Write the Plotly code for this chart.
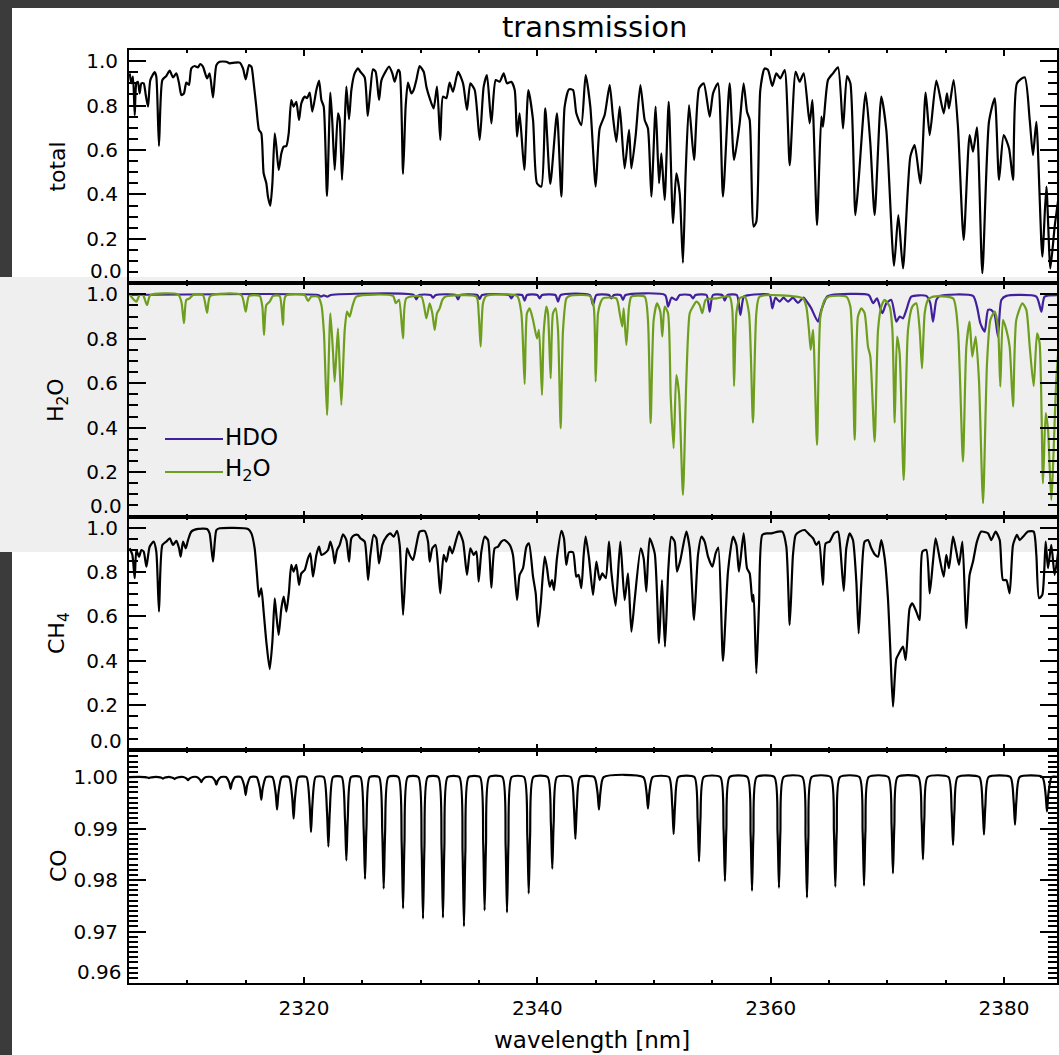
import plotly.graph_objects as go

# ---------------- data ----------------
total_points = [
    (2305.06,0.945),(2305.2,0.90),(2305.34,0.93),(2305.49,0.757),(2305.63,0.90),(2305.77,0.907),(2305.91,0.855),
    (2306.06,0.90),(2306.26,0.90),(2306.43,0.85),(2306.63,0.795),(2306.83,0.915),(2307.2,0.95),(2307.34,0.93),
    (2307.57,0.618),(2307.86,0.915),(2308.2,0.933),(2308.49,0.957),(2308.77,0.927),(2309.06,0.945),(2309.29,0.90),
    (2309.49,0.847),(2309.71,0.855),(2309.91,0.903),(2310.14,0.893),(2310.34,0.967),(2310.63,0.978),(2310.91,0.972),
    (2311.11,0.987),(2311.34,0.975),(2311.69,0.922),(2311.91,0.945),(2312.2,0.837),(2312.49,0.982),(2312.77,0.997),
    (2313.34,0.997),(2313.63,0.99),(2314.06,0.993),(2314.49,0.993),(2314.77,0.967),(2315.0,0.918),(2315.29,0.982),
    (2315.49,0.975),(2315.69,0.90),(2315.91,0.795),(2316.14,0.69),(2316.34,0.675),(2316.54,0.495),(2316.77,0.45),
    (2316.91,0.39),(2317.11,0.349),(2317.29,0.45),(2317.49,0.675),(2317.63,0.615),(2317.83,0.51),(2318.06,0.585),
    (2318.26,0.615),(2318.49,0.618),(2318.69,0.675),(2318.91,0.825),(2319.11,0.795),(2319.34,0.817),(2319.57,0.735),
    (2319.77,0.81),(2320.06,0.84),(2320.26,0.833),(2320.49,0.858),(2320.71,0.772),(2321.06,0.87),(2321.29,0.912),
    (2321.49,0.825),(2321.69,0.795),(2321.97,0.393),(2322.26,0.858),(2322.43,0.72),(2322.63,0.51),(2322.91,0.765),
    (2323.06,0.735),(2323.26,0.465),(2323.49,0.72),(2323.63,0.885),(2323.86,0.738),(2324.06,0.87),(2324.34,0.945),
    (2324.63,0.967),(2324.83,0.952),(2325.2,0.927),(2325.46,0.753),(2325.69,0.87),(2325.91,0.963),(2326.14,0.952),
    (2326.43,0.825),(2326.63,0.912),(2326.91,0.945),(2327.29,0.975),(2327.57,0.945),(2327.77,0.907),(2328.06,0.96),
    (2328.2,0.952),(2328.49,0.492),(2328.71,0.795),(2328.91,0.903),(2329.2,0.855),(2329.4,0.87),(2329.63,0.915),
    (2329.91,0.978),(2330.26,0.952),(2330.49,0.885),
    (2330.77,0.833),(2331.11,0.787),(2331.4,0.885),(2331.68,0.645),(2331.91,0.84),(2332.2,0.833),(2332.48,0.903),
    (2332.77,0.862),(2333.2,0.952),(2333.63,0.90),(2333.97,0.78),(2334.26,0.90),(2334.63,0.87),(2335.06,0.645),
    (2335.4,0.885),(2335.68,0.937),(2336.06,0.72),(2336.43,0.915),(2336.77,0.907),(2337.11,0.945),(2337.4,0.90),
    (2337.77,0.907),(2338.06,0.87),(2338.26,0.66),(2338.48,0.765),(2338.88,0.51),(2339.23,0.87),(2339.63,0.735),
    (2339.97,0.45),(2340.34,0.435),(2340.68,0.787),(2341.11,0.447),(2341.68,0.765),(2342.06,0.39),(2342.34,0.795),
    (2342.71,0.873),(2343.06,0.87),(2343.34,0.765),(2343.77,0.712),(2344.14,0.937),(2344.54,0.795),(2345.0,0.435),
    (2345.34,0.697),(2345.77,0.757),(2346.2,0.892),(2346.48,0.75),(2346.77,0.637),(2347.06,0.795),(2347.48,0.517),
    (2347.86,0.69),(2348.06,0.517),(2348.43,0.667),(2348.83,0.892),(2349.2,0.735),(2349.48,0.697),(2349.77,0.39),
    (2350.14,0.795),(2350.43,0.45),(2350.63,0.585),(2350.91,0.375),(2351.26,0.817),(2351.63,0.27),(2351.91,0.495),
    (2352.2,0.405),(2352.48,0.092),(2352.71,0.495),(2353.0,0.802),(2353.43,0.555),(2353.86,0.877),(2354.26,0.90),
    (2354.77,0.75),(2355.06,0.855),(2355.48,0.90),(2355.91,0.39),(2356.48,0.90),(2356.86,0.555),
    (2357.34,0.72),(2357.68,0.90),(2357.97,0.772),(2358.2,0.735),(2358.54,0.255),(2358.77,0.277),(2359.11,0.87),
    (2359.48,0.967),(2359.77,0.96),(2360.14,0.888),(2360.48,0.945),(2360.83,0.922),(2361.2,0.96),(2361.63,0.532),
    (2362.14,0.952),(2362.48,0.907),(2362.83,0.945),(2363.34,0.72),(2363.57,0.825),(2363.97,0.262),(2364.34,0.75),
    (2364.48,0.705),(2364.91,0.915),(2365.34,0.945),(2365.77,0.972),(2366.2,0.697),(2366.54,0.933),(2366.83,0.90),
    (2367.26,0.307),(2367.54,0.465),(2368.14,0.858),(2368.54,0.63),(2368.91,0.307),(2369.48,0.84),(2369.91,0.69),
    (2370.57,0.078),(2370.94,0.307),(2371.34,0.067),(2371.97,0.57),(2372.34,0.622),(2372.83,0.45),(2373.28,0.858),
    (2373.63,0.667),(2374.2,0.912),(2374.83,0.765),(2375.11,0.855),(2375.28,0.787),(2375.68,0.915),(2376.05,0.705),
    (2376.54,0.195),(2377.05,0.667),(2377.34,0.592),(2377.68,0.702),(2378.14,0.045),(2378.71,0.727),(2379.2,0.832),
    (2379.57,0.465),(2379.97,0.667),(2380.43,0.607),(2380.77,0.465),(2381.11,0.90),(2381.77,0.927),(2382.2,0.735),
    (2382.48,0.577),(2382.77,0.727),(2383.28,0.12),(2383.63,0.435),(2383.97,0.067),(2384.34,0.255),(2384.68,0.39),
]

hdo_points = [
    (2305.06,0.997),(2321.2,0.997),(2321.45,0.99),(2321.7,0.995),(2322.0,0.99),(2322.3,0.997),(2329.4,0.997),
    (2329.63,0.977),(2329.86,0.997),(2330.85,0.997),(2331.06,0.985),(2331.3,0.997),(2333.0,0.997),(2333.2,0.977),
    (2333.4,0.997),(2334.85,0.997),(2335.06,0.979),(2335.26,0.997),(2337.57,0.997),(2337.77,0.982),(2337.97,0.997),
    (2338.7,0.997),(2338.91,0.972),(2339.11,0.997),(2340.0,0.997),(2340.2,0.982),(2340.4,0.997),(2341.55,0.997),
    (2341.77,0.967),(2342.0,0.997),(2344.5,0.997),(2344.77,0.952),(2345.05,0.997),(2346.15,0.997),(2346.34,0.982),
    (2346.55,0.997),(2347.13,0.997),(2347.34,0.975),(2347.55,0.997),(2350.95,0.997),(2351.2,0.945),(2351.5,0.985),
    (2351.91,0.975),(2352.2,0.997),(2353.1,0.997),(2353.34,0.982),(2353.55,0.997),(2354.5,0.997),(2354.77,0.922),
    (2355.05,0.997),(2355.85,0.997),(2356.06,0.972),(2356.3,0.997),(2357.1,0.997),(2357.4,0.907),(2357.7,0.99),
    (2358.2,0.997),(2359.9,0.997),(2360.14,0.937),(2360.4,0.985),(2360.77,0.967),(2361.1,0.985),(2361.48,0.967),
    (2361.9,0.985),(2362.34,0.962),(2362.8,0.985),(2363.2,0.96),(2363.48,0.937),(2364.05,0.877),(2364.34,0.93),
    (2364.83,0.99),(2365.2,0.997),(2368.4,0.997),(2368.77,0.96),(2369.11,0.982),(2369.57,0.915),(2369.91,0.96),
    (2370.34,0.975),(2370.77,0.877),(2371.05,0.9),(2371.34,0.892),(2371.63,0.93),(2372.05,0.99),(2373.34,0.993),
    (2373.68,0.96),(2373.91,0.877),(2374.2,0.975),(2374.48,0.993),(2377.34,0.993),(2377.68,0.945),(2377.97,0.87),
    (2378.34,0.832),(2378.63,0.93),(2378.91,0.93),(2379.2,0.907),(2379.48,0.81),(2379.77,0.975),(2380.2,0.993),
    (2382.77,0.99),(2383.2,0.922),(2383.48,0.99),(2384.68,0.997),
]

h2o_points = [
    (2305.06,1.0),(2305.34,0.98),(2305.63,0.967),(2305.91,0.997),(2306.2,0.997),(2306.54,0.952),(2306.83,0.997),
    (2309.2,1.0),(2309.49,0.967),(2309.71,0.87),(2309.91,0.975),(2310.2,0.982),(2310.49,0.997),(2311.34,0.997),
    (2311.69,0.917),(2311.97,0.993),(2314.63,0.997),(2315.0,0.922),(2315.29,0.993),(2316.2,0.993),(2316.43,0.945),
    (2316.57,0.817),(2316.77,0.952),(2317.06,0.967),(2317.34,0.993),(2317.91,0.993),(2318.2,0.862),(2318.43,0.993),
    (2320.06,0.997),(2320.34,0.97),(2320.63,0.99),(2321.2,0.99),(2321.49,0.952),(2321.71,0.825),(2321.97,0.457),
    (2322.26,0.915),(2322.49,0.735),(2322.63,0.607),(2322.91,0.847),(2323.2,0.502),(2323.49,0.84),(2323.69,0.922),
    (2323.91,0.9),(2324.14,0.945),(2324.49,0.99),(2327.63,0.993),(2327.86,0.96),(2328.14,0.975),(2328.49,0.802),
    (2328.77,0.982),(2330.06,0.99),(2330.49,0.892),
    (2330.77,0.96),(2331.0,0.915),(2331.2,0.84),(2331.4,0.915),(2331.63,0.937),(2331.86,0.975),(2332.14,0.99),
    (2334.77,0.99),(2334.97,0.915),(2335.14,0.765),(2335.34,0.96),(2335.63,0.993),(2338.26,0.993),(2338.63,0.915),
    (2338.91,0.597),(2339.11,0.915),(2339.34,0.937),(2339.63,0.885),(2339.97,0.802),(2340.14,0.84),(2340.4,0.547),
    (2340.54,0.825),(2340.77,0.945),(2340.91,0.915),(2341.14,0.622),(2341.34,0.915),(2341.57,0.937),(2341.77,0.84),
    (2342.0,0.397),(2342.2,0.84),(2342.49,0.982),(2342.77,0.993),(2344.49,0.993),(2344.83,0.945),(2345.0,0.607),
    (2345.2,0.915),(2345.4,0.96),(2345.63,0.982),(2346.77,0.982),(2347.06,0.915),(2347.28,0.855),(2347.4,0.937),
    (2347.63,0.772),(2347.86,0.945),(2348.06,0.99),(2349.2,0.99),(2349.48,0.885),(2349.71,0.42),(2349.97,0.885),
    (2350.26,0.96),(2350.54,0.922),(2350.71,0.81),(2350.91,0.945),(2351.2,0.915),(2351.43,0.54),(2351.68,0.307),
    (2351.91,0.637),(2352.14,0.555),(2352.48,0.097),(2352.77,0.615),(2353.06,0.915),(2353.34,0.945),(2353.63,0.967),
    (2353.91,0.952),(2354.14,0.915),(2354.43,0.975),(2355.34,0.982),(2356.48,0.99),(2356.71,0.93),(2356.86,0.587),
    (2357.06,0.915),
    (2357.34,0.982),(2357.77,0.99),(2358.14,0.915),(2358.48,0.422),(2358.77,0.915),(2359.05,0.99),(2362.77,0.982),
    (2363.05,0.945),(2363.28,0.84),(2363.43,0.75),(2363.63,0.84),(2363.97,0.322),(2364.26,0.9),(2364.63,0.975),
    (2365.0,0.99),(2366.48,0.99),(2366.83,0.945),(2367.2,0.345),(2367.48,0.9),(2367.77,0.937),(2368.05,0.915),
    (2368.34,0.765),(2368.54,0.72),(2368.91,0.337),(2369.2,0.84),(2369.48,0.945),(2369.77,0.975),(2370.2,0.945),
    (2370.43,0.84),(2370.63,0.422),(2370.83,0.81),(2371.05,0.735),(2371.4,0.165),(2371.77,0.84),(2372.14,0.945),
    (2372.48,0.96),(2372.77,0.84),(2372.97,0.667),(2373.2,0.915),(2373.48,0.975),(2373.91,0.99),(2375.63,0.982),
    (2376.05,0.84),(2376.48,0.247),(2376.77,0.765),(2377.05,0.877),(2377.28,0.72),(2377.57,0.81),(2377.85,0.615),
    (2378.2,0.06),(2378.54,0.69),(2378.83,0.885),(2379.2,0.922),(2379.48,0.855),(2379.68,0.585),(2379.91,0.885),
    (2380.2,0.84),(2380.48,0.765),(2380.77,0.495),(2381.05,0.885),(2381.57,0.96),(2381.91,0.93),(2382.2,0.765),
    (2382.54,0.587),(2382.83,0.825),(2383.05,0.78),(2383.34,0.15),(2383.57,0.465),(2383.77,0.39),(2384.05,0.075),
    (2384.48,0.615),(2384.68,0.765),
]

ch4_points = [
    (2305.06,0.907),(2305.29,0.877),(2305.49,0.772),(2305.63,0.899),(2305.86,0.869),(2306.06,0.899),(2306.26,0.892),
    (2306.49,0.824),(2306.77,0.914),(2307.11,0.937),(2307.34,0.892),(2307.57,0.622),(2307.86,0.922),(2308.2,0.937),
    (2308.49,0.952),(2308.77,0.922),(2309.06,0.94),(2309.29,0.907),(2309.43,0.869),(2309.63,0.937),(2309.86,0.907),
    (2310.06,0.944),(2310.34,0.982),(2310.91,0.994),(2311.69,0.994),(2311.91,0.974),(2312.2,0.847),(2312.49,0.989),
    (2312.77,0.997),(2315.2,0.994),(2315.49,0.974),(2315.77,0.907),(2315.97,0.787),(2316.14,0.689),(2316.34,0.727),
    (2316.54,0.622),(2316.77,0.487),(2317.06,0.363),(2317.29,0.487),(2317.49,0.682),(2317.63,0.607),(2317.83,0.517),
    (2318.06,0.637),(2318.26,0.689),(2318.49,0.622),(2318.71,0.712),(2318.91,0.832),(2319.11,0.802),(2319.34,0.832),
    (2319.57,0.742),(2319.77,0.794),(2320.06,0.809),(2320.34,0.862),(2320.54,0.884),(2320.77,0.779),(2321.06,0.877),
    (2321.29,0.914),(2321.49,0.877),(2321.77,0.884),(2322.06,0.899),(2322.26,0.937),(2322.49,0.892),(2322.63,0.839),
    (2322.83,0.899),(2323.06,0.922),(2323.34,0.97),(2323.63,0.944),(2323.86,0.847),(2324.06,0.952),(2324.34,0.967),
    (2324.63,0.967),(2324.83,0.952),(2325.2,0.937),(2325.49,0.764),(2325.69,0.877),(2325.97,0.967),(2326.2,0.952),
    (2326.43,0.839),(2326.71,0.922),(2327.06,0.959),(2327.4,0.974),(2327.69,0.959),(2327.97,0.985),(2328.2,0.922),
    (2328.49,0.607),(2328.71,0.817),(2328.83,0.907),(2329.06,0.877),(2329.34,0.854),(2329.63,0.922),(2329.91,0.982),
    (2330.34,0.985),(2330.63,0.937),
    (2330.77,0.847),(2331.0,0.907),(2331.28,0.922),(2331.48,0.832),(2331.68,0.704),(2331.97,0.877),(2332.2,0.847),
    (2332.48,0.914),(2332.71,0.884),(2333.0,0.937),(2333.28,0.982),(2333.63,0.937),(2333.97,0.787),(2334.26,0.907),
    (2334.54,0.877),(2334.77,0.892),(2334.97,0.757),(2335.2,0.892),(2335.48,0.959),(2335.77,0.944),(2336.06,0.73),
    (2336.34,0.907),(2336.63,0.914),(2336.91,0.937),(2337.2,0.944),(2337.63,0.922),(2337.91,0.877),(2338.26,0.674),
    (2338.48,0.787),(2338.77,0.817),(2339.06,0.914),(2339.28,0.929),(2339.63,0.779),(2339.86,0.704),(2340.06,0.554),
    (2340.28,0.652),(2340.63,0.869),(2340.83,0.817),(2341.06,0.734),(2341.26,0.764),(2341.43,0.719),(2341.68,0.862),
    (2342.06,0.985),(2342.28,0.952),(2342.48,0.832),(2342.71,0.889),(2343.06,0.889),(2343.34,0.779),(2343.54,0.787),
    (2343.77,0.727),(2343.97,0.877),(2344.14,0.959),(2344.43,0.862),(2344.77,0.697),(2345.06,0.847),(2345.34,0.764),
    (2345.57,0.794),(2345.86,0.772),(2346.14,0.937),(2346.34,0.802),(2346.71,0.649),(2347.11,0.937),(2347.48,0.674),
    (2347.77,0.794),(2348.06,0.532),(2348.34,0.674),(2348.86,0.907),(2349.11,0.862),(2349.34,0.712),(2349.63,0.952),
    (2350.06,0.884),(2350.43,0.479),(2350.68,0.764),(2350.94,0.464),(2351.23,0.817),(2351.48,0.959),(2351.77,0.937),
    (2351.97,0.802),(2352.26,0.854),(2352.77,0.982),(2353.06,0.907),(2353.43,0.584),(2353.77,0.877),(2354.06,0.959),
    (2354.34,0.937),(2354.63,0.869),(2355.0,0.824),(2355.28,0.884),(2355.51,0.91),(2355.91,0.4),(2356.34,0.802),
    (2356.77,0.959),(2357.06,0.922),(2357.28,0.802),
    (2357.68,0.974),(2357.97,0.817),(2358.2,0.794),(2358.43,0.667),(2358.54,0.697),(2358.77,0.344),(2359.0,0.652),
    (2359.28,0.967),(2359.68,0.974),(2360.05,0.974),(2360.63,0.982),(2361.0,0.982),(2361.34,0.914),(2361.63,0.562),
    (2361.91,0.877),(2362.14,0.967),(2362.48,0.982),(2362.91,0.989),(2363.34,0.967),(2363.63,0.952),(2363.91,0.922),
    (2364.14,0.937),(2364.48,0.742),(2364.71,0.929),(2365.05,0.937),(2365.43,0.974),(2365.77,0.982),(2365.97,0.907),
    (2366.26,0.715),(2366.48,0.907),(2366.77,0.974),(2367.05,0.944),(2367.34,0.757),(2367.54,0.524),(2367.77,0.757),
    (2368.05,0.937),(2368.34,0.944),(2368.63,0.907),(2368.91,0.88),(2369.2,0.869),(2369.48,0.944),(2369.77,0.862),
    (2370.05,0.682),(2370.25,0.455),(2370.48,0.194),(2370.77,0.41),(2371.0,0.434),(2371.34,0.464),(2371.57,0.404),
    (2371.91,0.637),(2372.14,0.659),(2372.48,0.622),(2372.77,0.584),(2373.0,0.892),(2373.34,0.899),(2373.63,0.704),
    (2373.91,0.847),(2374.14,0.952),(2374.48,0.862),(2374.83,0.779),(2375.05,0.877),(2375.28,0.817),(2375.63,0.959),
    (2375.91,0.892),(2376.14,0.832),(2376.43,0.937),(2376.77,0.547),(2377.05,0.787),(2377.34,0.847),(2377.68,0.937),
    (2378.05,0.982),(2378.63,0.974),(2378.91,0.944),(2379.28,0.982),(2379.63,0.944),(2379.91,0.764),(2380.2,0.764),
    (2380.48,0.704),(2380.77,0.922),(2381.11,0.967),(2381.34,0.944),(2381.63,0.959),(2382.05,0.982),(2382.54,0.982),
    (2382.77,0.877),(2383.0,0.682),(2383.28,0.697),(2383.57,0.937),(2383.77,0.817),(2384.05,0.922),(2384.34,0.787),
    (2384.68,0.907),
]

co_points = [
    (2305.0,1.0),
    (2306.31,1.0),(2306.59,0.9999),(2306.71,0.9998),(2306.83,0.9999),(2307.11,1.0),
    (2307.51,1.0),(2307.79,0.99985),(2307.91,0.9997),(2308.03,0.99985),(2308.31,1.0),
    (2308.51,1.0),(2308.79,0.9998),(2308.91,0.9996),(2309.03,0.9998),(2309.31,1.0),
    (2309.66,1.0),(2309.94,0.9997),(2310.06,0.9994),(2310.18,0.9997),(2310.46,1.0),
    (2310.8,1.0),(2311.08,0.9995),(2311.2,0.9990),(2311.32,0.9995),(2311.6,1.0),
    (2312.09,1.0),(2312.37,0.9993),(2312.49,0.9985),(2312.61,0.9993),(2312.89,1.0),
    (2313.31,1.0),(2313.59,0.9989),(2313.71,0.9977),(2313.83,0.9989),(2314.11,1.0),
    (2314.6,1.0),(2314.88,0.9983),(2315.0,0.9965),(2315.12,0.9983),(2315.4,1.0),
    (2315.94,1.0),(2316.22,0.9978),(2316.34,0.9956),(2316.46,0.9978),(2316.74,1.0),
    (2317.29,1.0),(2317.57,0.9969),(2317.69,0.9937),(2317.81,0.9969),(2318.09,1.0),
    (2318.71,1.0),(2318.99,0.9960),(2319.11,0.9919),(2319.23,0.9960),(2319.51,1.0),
    (2320.2,1.0),(2320.48,0.9947),(2320.6,0.9893),(2320.72,0.9947),(2321.0,1.0),
    (2321.69,1.0),(2321.97,0.9933),(2322.09,0.9865),(2322.21,0.9933),(2322.49,1.0),
    (2323.23,1.0),(2323.51,0.9919),(2323.63,0.9838),(2323.75,0.9919),(2324.03,1.0),
    (2324.83,1.0),(2325.11,0.9901),(2325.23,0.9802),(2325.35,0.9901),(2325.63,1.0),
    (2326.43,1.0),(2326.71,0.9892),(2326.83,0.9783),(2326.95,0.9892),(2327.23,1.0),
    (2328.09,1.0),(2328.37,0.9873),(2328.49,0.9745),(2328.61,0.9873),(2328.89,1.0),
    (2329.8,1.0),(2330.08,0.9863),(2330.2,0.9725),(2330.32,0.9863),(2330.6,1.0),
    (2331.51,1.0),(2331.79,0.9864),(2331.91,0.9727),(2332.03,0.9864),(2332.31,1.0),
    (2333.31,1.0),(2333.59,0.9855),(2333.71,0.9710),(2333.83,0.9855),(2334.11,1.0),
    (2335.08,1.0),(2335.36,0.9871),(2335.48,0.9741),(2335.6,0.9871),(2335.88,1.0),
    (2337.0,1.0),(2337.28,0.9869),(2337.4,0.9737),(2337.52,0.9869),(2337.8,1.0),
    (2338.86,1.0),(2339.14,0.9887),(2339.26,0.9774),(2339.38,0.9887),(2339.66,1.0),
    (2340.88,1.0),(2341.16,0.9911),(2341.28,0.9822),(2341.4,0.9911),(2341.68,1.0),
    (2342.86,1.0),(2343.14,0.9940),(2343.26,0.9880),(2343.38,0.9940),(2343.66,1.0),
    (2344.88,1.0),(2345.16,0.9969),(2345.28,0.9937),(2345.4,0.9969),(2345.68,1.0),
    (2349.08,1.0),(2349.36,0.9970),(2349.48,0.9939),(2349.6,0.9970),(2349.88,1.0),
    (2351.28,1.0),(2351.56,0.9945),(2351.68,0.9889),(2351.8,0.9945),(2352.08,1.0),
    (2353.46,1.0),(2353.74,0.9918),(2353.86,0.9836),(2353.98,0.9918),(2354.26,1.0),
    (2355.68,1.0),(2355.96,0.9899),(2356.08,0.9798),(2356.2,0.9899),(2356.48,1.0),
    (2358.0,1.0),(2358.28,0.9890),(2358.4,0.9779),(2358.52,0.9890),(2358.8,1.0),
    (2360.31,1.0),(2360.59,0.9893),(2360.71,0.9785),(2360.83,0.9893),(2361.11,1.0),
    (2362.71,1.0),(2362.99,0.9883),(2363.11,0.9766),(2363.23,0.9883),(2363.51,1.0),
    (2365.14,1.0),(2365.42,0.9894),(2365.54,0.9787),(2365.66,0.9894),(2365.94,1.0),
    (2367.6,1.0),(2367.88,0.9895),(2368.0,0.9789),(2368.12,0.9895),(2368.4,1.0),
    (2370.08,1.0),(2370.36,0.9907),(2370.48,0.9813),(2370.6,0.9907),(2370.88,1.0),
    (2372.65,1.0),(2372.93,0.9920),(2373.05,0.9840),(2373.17,0.9920),(2373.45,1.0),
    (2375.23,1.0),(2375.51,0.9934),(2375.63,0.9868),(2375.75,0.9934),(2376.03,1.0),
    (2377.88,1.0),(2378.16,0.9944),(2378.28,0.9888),(2378.4,0.9944),(2378.68,1.0),
    (2380.54,1.0),(2380.82,0.9954),(2380.94,0.9907),(2381.06,0.9954),(2381.34,1.0),
    (2383.28,1.0),(2383.56,0.9967),(2383.68,0.9933),(2383.8,0.9967),(2384.08,1.0),
    (2384.6,1.0),
]

x_tick_values = [2320, 2340, 2360, 2380]
frac_tick_values = [0.2, 0.4, 0.6, 0.8, 1.0]
co_tick_values = [0.97, 0.98, 0.99, 1.00]
panel_titles = ["total", "H<sub>2</sub>O", "CH<sub>4</sub>", "CO"]
legend_names = ["HDO", "H<sub>2</sub>O"]
bottom_tick_labels = ["0.0", "0.0", "0.0", "0.96"]

# ---------------- figure ----------------
FONT = "DejaVu Sans"
BLACK = "black"
HDO_COLOR = "#40209c"
H2O_COLOR = "#6e9e1e"

def unzip(pts):
    return [p[0] for p in pts], [p[1] for p in pts]

def line(color):
    return dict(color=color, width=2.2, shape="spline", smoothing=0.6)

fig = go.Figure()
tx, ty = unzip(total_points)
fig.add_trace(go.Scatter(x=tx, y=ty, mode="lines", line=line(BLACK), xaxis="x4", yaxis="y4", showlegend=False))
hx, hy = unzip(hdo_points)
fig.add_trace(go.Scatter(x=hx, y=hy, mode="lines", line=line(HDO_COLOR), xaxis="x3", yaxis="y3", name="HDO", showlegend=False))
wx, wy = unzip(h2o_points)
fig.add_trace(go.Scatter(x=wx, y=wy, mode="lines", line=line(H2O_COLOR), xaxis="x3", yaxis="y3", name="H2O", showlegend=False))
cx, cy = unzip(ch4_points)
fig.add_trace(go.Scatter(x=cx, y=cy, mode="lines", line=line(BLACK), xaxis="x2", yaxis="y2", showlegend=False))
ox, oy = unzip(co_points)
fig.add_trace(go.Scatter(x=ox, y=oy, mode="lines", line=line(BLACK), xaxis="x", yaxis="y", showlegend=False))

XR = [2305.0, 2384.54]
tickfont = dict(family=FONT, size=20, color=BLACK)

def xaxis(anchor, labels):
    d = dict(range=XR, anchor=anchor, showline=True, linecolor=BLACK, linewidth=2, mirror="allticks",
             ticks="inside", ticklen=6, tickwidth=2, tickcolor=BLACK, tickvals=x_tick_values,
             minor=dict(ticks="inside", dtick=5, tick0=2300, ticklen=3, tickwidth=2, tickcolor=BLACK),
             showgrid=False, zeroline=False, showticklabels=labels, tickfont=tickfont, ticklabelstandoff=6)
    if anchor != "y":
        d["matches"] = "x"
    return d

def yaxis(domain, rng, tickvals, mdtick, mtick0, fmt, anchor):
    return dict(domain=domain, range=rng, anchor=anchor, showline=True, linecolor=BLACK, linewidth=2, mirror="allticks",
                ticks="inside", ticklen=17, tickwidth=2, tickcolor=BLACK, tickvals=tickvals, tickformat=fmt,
                minor=dict(ticks="inside", dtick=mdtick, tick0=mtick0, ticklen=9, tickwidth=2, tickcolor=BLACK),
                showgrid=False, zeroline=False, tickfont=tickfont, ticklabelstandoff=5)

W, H = 1059, 1055
L, R, T, B = 129, 2, 50, 72
PW, PH = W - L - R, H - T - B

def px(x):
    return (x - L) / PW

def py(y):
    return (H - B - y) / PH

ya = yaxis([0.0, 0.25], [0.96, 1.0053], co_tick_values, 0.001, 0.96, ".2f", "x")
y2 = yaxis([0.25, 0.5], [0, 1.05], frac_tick_values, 0.05, 0, ".1f", "x2")
y3 = yaxis([0.5, 0.75], [0, 1.05], frac_tick_values, 0.05, 0, ".1f", "x3")
y4 = yaxis([0.75, 1.0], [0, 1.05], frac_tick_values, 0.05, 0, ".1f", "x4")

shapes = [
    dict(type="rect", xref="paper", yref="paper", x0=px(0), x1=px(12), y0=py(H), y1=py(0),
         fillcolor="#3b3b3b", line=dict(width=0), layer="below"),
    dict(type="rect", xref="paper", yref="paper", x0=px(0), x1=px(W), y0=py(8), y1=py(0),
         fillcolor="#3b3b3b", line=dict(width=0), layer="below"),
    dict(type="rect", xref="paper", yref="paper", x0=px(0), x1=px(W), y0=py(552), y1=py(277),
         fillcolor="#efefef", line=dict(width=0), layer="below"),
    dict(type="line", xref="paper", yref="paper", x0=px(165), x1=px(223), y0=py(439), y1=py(439),
         line=dict(color=HDO_COLOR, width=2.2)),
    dict(type="line", xref="paper", yref="paper", x0=px(165), x1=px(223), y0=py(472), y1=py(472),
         line=dict(color=H2O_COLOR, width=2.2)),
]

annotations = [
    dict(text="transmission", x=px(594), y=py(27), xref="paper", yref="paper", showarrow=False,
         xanchor="center", yanchor="middle", font=dict(family=FONT, size=29, color=BLACK)),
    dict(text="wavelength [nm]", x=px(592), y=py(1040), xref="paper", yref="paper", showarrow=False,
         xanchor="center", yanchor="middle", font=dict(family=FONT, size=23, color=BLACK)),
    dict(text=legend_names[0], x=px(223), y=py(437), xref="paper", yref="paper", showarrow=False,
         xanchor="left", yanchor="middle", font=dict(family=FONT, size=23, color=BLACK)),
    dict(text=legend_names[1], x=px(223), y=py(470), xref="paper", yref="paper", showarrow=False,
         xanchor="left", yanchor="middle", font=dict(family=FONT, size=23, color=BLACK)),
]
centers = [166.6, 400, 633, 866]
for t, c in zip(panel_titles, centers):
    annotations.append(dict(text=t, x=px(58), y=py(c), xref="paper", yref="paper", showarrow=False,
                            textangle=-90, xanchor="center", yanchor="middle",
                            font=dict(family=FONT, size=22, color=BLACK)))
bottom_label_y = [271, 506, 741, 972]
for t, yy in zip(bottom_tick_labels, bottom_label_y):
    annotations.append(dict(text=t, x=px(124), y=py(yy), xref="paper", yref="paper", showarrow=False,
                            xanchor="right", yanchor="middle", font=tickfont))

fig.update_layout(
    width=W, height=H, margin=dict(l=L, r=R, t=T, b=B, autoexpand=False),
    paper_bgcolor="white", plot_bgcolor="rgba(0,0,0,0)",
    font=dict(family=FONT, color=BLACK),
    xaxis=xaxis("y", True), xaxis2=xaxis("y2", False), xaxis3=xaxis("y3", False), xaxis4=xaxis("y4", False),
    yaxis=ya, yaxis2=y2, yaxis3=y3, yaxis4=y4,
    shapes=shapes, annotations=annotations, showlegend=False,
)

fig.write_html("out.html")
